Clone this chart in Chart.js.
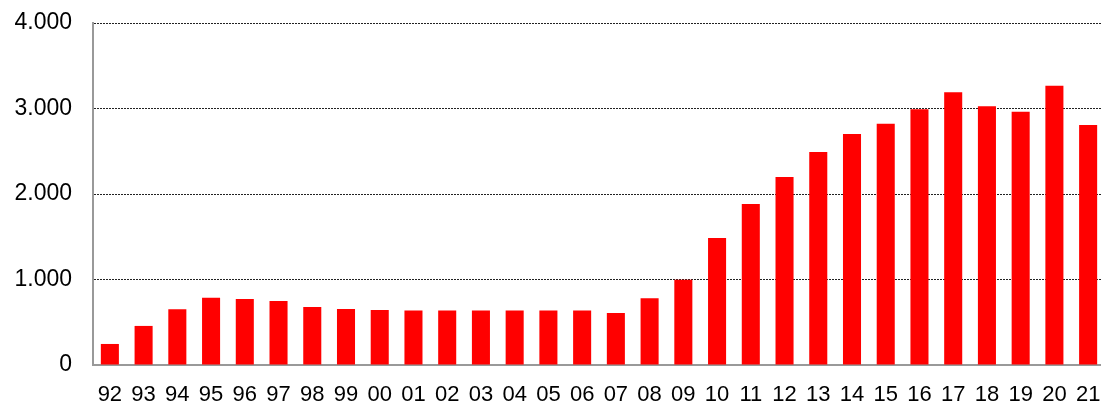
<!DOCTYPE html>
<html>
<head>
<meta charset="utf-8">
<script src="https://cdn.jsdelivr.net/npm/chart.js@4/dist/chart.umd.min.js"></script>
<style>
  html, body { margin: 0; padding: 0; background: #fff; overflow: hidden; }
  #wrap { position: relative; width: 1110px; height: 403px; }
</style>
</head>
<body>
<div id="wrap"><canvas id="c" width="1110" height="403"></canvas></div>
<script>
// Years (two-digit labels) and yearly values
const years = ['92','93','94','95','96','97','98','99','00','01','02','03','04','05','06','07',
               '08','09','10','11','12','13','14','15','16','17','18','19','20','21'];
const values = [246, 457, 652, 788, 773, 749, 679, 656, 644, 637, 637, 637, 637, 637, 637, 609,
                781, 998, 1484, 1882, 2198, 2490, 2701, 2822, 2990, 3189, 3025, 2963, 3267, 2807];
const yTicks = [0, 1000, 2000, 3000, 4000];

const fmt = v => v === 0 ? '0' : v.toLocaleString('de-DE');
const FONT = '"Liberation Sans", Arial, sans-serif';

new Chart(document.getElementById('c'), {
  type: 'bar',
  data: {
    labels: years,
    datasets: [{
      data: values,
      backgroundColor: '#ff0000',
      borderWidth: 0,
      barPercentage: 0.535,
      categoryPercentage: 1.0
    }]
  },
  options: {
    responsive: false,
    animation: false,
    layout: { padding: { top: 23, right: 5, left: 0, bottom: 0 } },
    plugins: { legend: { display: false }, tooltip: { enabled: false } },
    scales: {
      x: {
        grid: { display: false, drawTicks: false },
        border: { display: true, color: '#999999', width: 2 },
        ticks: {
          color: '#000',
          font: { family: FONT, size: 22 },
          padding: 17,
          maxRotation: 0,
          autoSkip: false
        },
        afterFit: s => { s.height = 38; s.paddingLeft = 0; s.paddingRight = 0; }
      },
      y: {
        min: 0,
        max: 4000,
        afterBuildTicks: s => { s.ticks = yTicks.map(v => ({ value: v })); },
        grid: {
          drawTicks: false,
          color: ctx => ctx.tick && ctx.tick.value === 0 ? 'rgba(0,0,0,0)' : '#222222',
          lineWidth: 1
        },
        // in v4 the dash applies to the grid lines of this axis
        border: { display: true, color: '#999999', width: 2, dash: [2, 1] },
        ticks: {
          color: '#000',
          font: { family: FONT, size: 23 },
          padding: 21,
          callback: v => fmt(v)
        },
        afterFit: s => { s.width = 93; s.paddingTop = 0; s.paddingBottom = 0; }
      }
    }
  }
});
</script>
</body>
</html>
